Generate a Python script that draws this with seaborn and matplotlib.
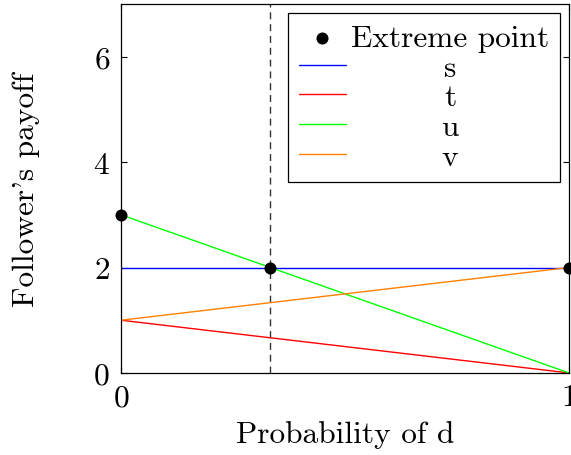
import matplotlib
matplotlib.use("Agg")
import matplotlib.pyplot as plt
import seaborn as sns
import pandas as pd

# probability of d at the two ends of each payoff line
prob_d = [0, 1]
payoff_s = [2, 2]
payoff_t = [1, 0]
payoff_u = [3, 0]
payoff_v = [1, 2]

series_names = ["s", "t", "u", "v"]
series_colors = ["#0000ff", "#ff0000", "#00ff00", "#ff8000"]

extreme_x = [0, 1 / 3, 1]
extreme_y = [3, 2, 2]
threshold = 1 / 3

sns.set_style("ticks")
plt.rcParams["font.family"] = "serif"
plt.rcParams["font.serif"] = ["cmr10"]
plt.rcParams["mathtext.fontset"] = "cm"
plt.rcParams["axes.formatter.use_mathtext"] = True
for key in ["text.color", "axes.labelcolor", "xtick.color", "ytick.color",
            "axes.edgecolor"]:
    plt.rcParams[key] = "black"

FS = 22.6

lines = pd.DataFrame({
    "x": prob_d * 4,
    "y": payoff_s + payoff_t + payoff_u + payoff_v,
    "name": [n for n in series_names for _ in prob_d],
})
points = pd.DataFrame({"x": extreme_x, "y": extreme_y})

fig = plt.figure(figsize=(5.71, 4.56), dpi=100)
ax = fig.add_axes([0.212, 0.18, 0.7845, 0.809])

ax.axvline(threshold, color="#333333", lw=1, ls=(0, (5, 3.5)), zorder=1)
sns.scatterplot(data=points, x="x", y="y", color="black", s=75, zorder=5,
                linewidth=0, clip_on=False, label="Extreme point", ax=ax)
sns.lineplot(data=lines, x="x", y="y", hue="name", palette=series_colors,
             lw=1, ax=ax)

ax.set_xlim(0, 1)
ax.set_ylim(0, 7)
ax.set_xticks([0, 1])
ax.set_yticks([0, 2, 4, 6])
ax.tick_params(direction="in", labelsize=FS, top=True, right=True,
               length=4, width=0.8, pad=8)
for s in ax.spines.values():
    s.set_linewidth(0.9)
ax.set_xlabel("Probability of d", fontsize=FS, labelpad=6)
ax.set_ylabel("Follower's payoff", fontsize=FS, labelpad=38)

leg = ax.legend(loc="upper right", fontsize=FS, frameon=True, fancybox=False,
                edgecolor="black", framealpha=1, handlelength=1.5,
                labelspacing=0.06, borderaxespad=0.3, borderpad=0.33,
                handletextpad=0.17)
leg.get_frame().set_linewidth(0.9)

# centre the single-letter labels under "Extreme point"
fig.canvas.draw()
ref = leg.get_texts()[0].get_window_extent()
for t in leg.get_texts()[1:]:
    e = t.get_window_extent()
    t.set_x(ref.x0 + ref.width / 2 - (e.x0 + e.width / 2))

fig.savefig("out.png", dpi=100)
